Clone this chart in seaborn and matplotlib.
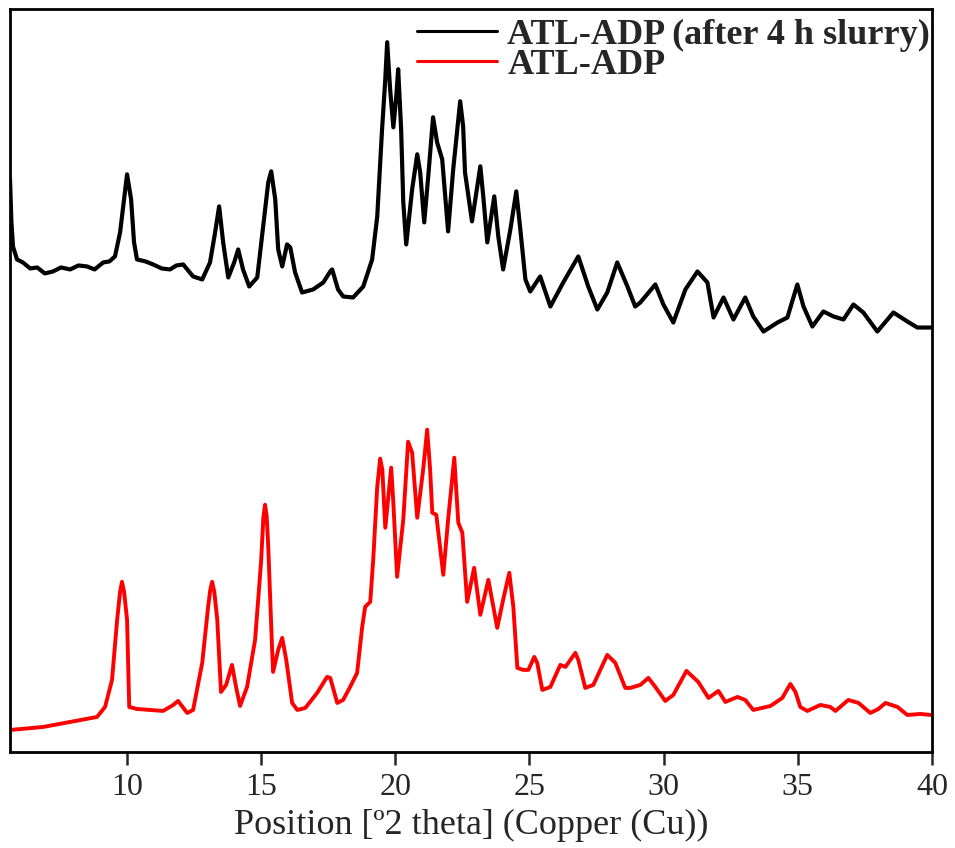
import matplotlib
matplotlib.use("Agg")
import matplotlib.pyplot as plt
import seaborn as sns
import pandas as pd

# Powder pattern after 4 h slurry (intensity, a.u., already stacked above the reference pattern)
slurry_theta = [5.65, 5.70, 5.76, 5.85, 5.91, 6.13, 6.40, 6.66, 6.95, 7.25, 7.55, 7.89, 8.20, 8.52,
                8.80, 9.12, 9.35, 9.56, 9.75, 9.94, 10.01, 10.16, 10.27, 10.38, 10.70, 10.98, 11.30,
                11.61, 11.85, 12.10, 12.47, 12.81, 13.10, 13.29, 13.44, 13.59, 13.78, 14.00, 14.15,
                14.33, 14.56, 14.86, 15.08, 15.27, 15.38, 15.53, 15.64, 15.79, 15.97, 16.09, 16.27,
                16.53, 16.94, 17.32, 17.58, 17.65, 17.87, 18.06, 18.43, 18.81, 19.14, 19.33, 19.51,
                19.63, 19.70, 19.81, 19.93, 20.04, 20.11, 20.22, 20.30, 20.41, 20.63, 20.82, 20.93,
                21.08, 21.23, 21.41, 21.56, 21.75, 21.97, 22.16, 22.42, 22.53, 22.60, 22.86, 23.17,
                23.28, 23.43, 23.69, 23.84, 24.02, 24.29, 24.51, 24.66, 24.85, 25.03, 25.40, 25.78,
                26.26, 26.82, 27.19, 27.53, 27.90, 28.27, 28.65, 28.94, 29.13, 29.69, 29.99, 30.36,
                30.81, 31.26, 31.63, 31.86, 32.23, 32.60, 33.04, 33.34, 33.72, 34.24, 34.61, 34.98,
                35.21, 35.54, 35.95, 36.33, 36.70, 37.07, 37.44, 37.96, 38.56, 39.08, 39.45, 39.94]
slurry_int = [572, 530, 505, 497, 492, 489, 483, 484, 478, 480, 484, 482, 486, 485,
              482, 489, 490, 495, 519, 562, 577, 552, 509, 492, 490, 487, 483,
              482, 486, 487, 475, 472, 489, 519, 545, 509, 474, 489, 502,
              482, 465, 474, 525, 569, 580, 552, 502, 485, 507, 504, 479,
              459, 462, 469, 480, 482, 462, 455, 454, 465, 492, 535, 622,
              672, 709, 662, 624, 655, 682, 622, 549, 507, 562, 597, 579,
              529, 575, 634, 609, 592, 520, 582, 650, 625, 579, 530, 585,
              555, 509, 555, 515, 482, 522, 560, 522, 472, 460, 475, 445,
              469, 495, 465, 442, 459, 489, 465, 445, 449, 467, 447, 429,
              462, 480, 469, 434, 454, 432, 454, 435, 420, 429, 434, 467,
              445, 425, 440, 435, 432, 447, 439, 420, 439, 430, 424, 424]

# Reference ATL-ADP pattern (intensity, a.u.)
ref_theta = [5.65, 6.88, 7.89, 8.89, 9.19, 9.45, 9.64, 9.75, 9.82, 9.90, 10.01, 10.09, 10.38,
             11.35, 11.73, 11.91, 12.25, 12.47, 12.81, 13.03, 13.11, 13.18, 13.26, 13.37, 13.51,
             13.70, 13.92, 14.07, 14.22, 14.48, 14.78, 15.00, 15.09, 15.15, 15.21, 15.27, 15.41,
             15.45, 15.64, 15.79, 15.94, 16.16, 16.35, 16.65, 17.09, 17.46, 17.58, 17.84, 18.06,
             18.32, 18.58, 18.77, 18.88, 19.07, 19.18, 19.33, 19.44, 19.52, 19.63, 19.85, 19.93,
             20.07, 20.30, 20.48, 20.63, 20.82, 21.04, 21.19, 21.30, 21.38, 21.53, 21.79, 21.97,
             22.20, 22.35, 22.50, 22.68, 22.94, 23.17, 23.47, 23.80, 24.02, 24.25, 24.40, 24.55,
             24.77, 24.96, 25.18, 25.29, 25.48, 25.78, 26.15, 26.34, 26.71, 26.82, 27.08, 27.38,
             27.90, 28.20, 28.57, 28.76, 29.13, 29.43, 29.69, 30.06, 30.36, 30.85, 31.29, 31.67,
             32.04, 32.30, 32.75, 33.04, 33.34, 33.98, 34.42, 34.72, 34.91, 35.09, 35.35, 35.84,
             36.21, 36.40, 36.88, 37.26, 37.70, 38.00, 38.26, 38.71, 39.08, 39.57, 39.94]
ref_int = [22, 25, 30, 35, 45, 72, 132, 160, 170, 160, 132, 45, 43,
           41, 47, 51, 39, 42, 89, 145, 162, 170, 160, 132, 60,
           67, 87, 65, 46, 65, 112, 189, 235, 247, 236, 205, 105,
           80, 102, 114, 92, 49, 42, 44, 59, 75, 74, 49, 52,
           65, 79, 125, 145, 150, 192, 265, 293, 282, 224, 284, 249,
           175, 232, 310, 299, 234, 282, 322, 282, 239, 237, 177, 232,
           294, 229, 219, 150, 184, 137, 172, 124, 152, 179, 145, 84,
           82, 82, 95, 89, 62, 65, 87, 85, 99, 92, 64, 67,
           97, 89, 64, 64, 67, 74, 65, 51, 57, 81, 70, 54,
           61, 50, 55, 52, 42, 46, 54, 68, 60, 45, 41, 47,
           45, 41, 52, 49, 39, 43, 49, 45, 37, 38, 37]

series_labels = ["ATL-ADP (after 4 h slurry)", "ATL-ADP"]
x_ticks = [10, 15, 20, 25, 30, 35, 40]

sns.set_style("ticks")
plt.rcParams["font.family"] = ["Liberation Serif", "DejaVu Serif"]
plt.rcParams["axes.linewidth"] = 2.0

fig = plt.figure(figsize=(9.55, 8.48), dpi=100)
ax = fig.add_axes([0.0105, 0.1132, 0.9655, 0.876])

slurry = pd.DataFrame({"theta": slurry_theta, "intensity": slurry_int})
ref = pd.DataFrame({"theta": ref_theta, "intensity": ref_int})

sns.lineplot(data=slurry, x="theta", y="intensity", ax=ax, color="black",
             linewidth=3.0, label=series_labels[0], sort=False)
sns.lineplot(data=ref, x="theta", y="intensity", ax=ax, color="#ff0000",
             linewidth=2.8, label=series_labels[1], sort=False)

ax.set_xlim(5.65, 40)
ax.set_ylim(0, 742)
ax.set_xticks(x_ticks)
ax.set_xticklabels([str(t) for t in x_ticks])
ax.set_yticks([])
ax.set_ylabel("")
ax.set_xlabel("Position [º2 theta] (Copper (Cu))", fontsize=26, labelpad=5)
ax.tick_params(axis="x", direction="out", length=9, width=1.8, labelsize=23, pad=6)
for s in ax.spines.values():
    s.set_visible(True)
    s.set_color("black")

leg = ax.legend(loc="upper right", bbox_to_anchor=(1.0, 0.99), frameon=False,
                prop={"family": "Liberation Serif", "weight": "bold", "size": 26},
                handlelength=2.2, handletextpad=0.3, labelspacing=-0.08,
                borderaxespad=0.0, borderpad=0.05)
for line in leg.get_lines():
    line.set_linewidth(2.2)

fig.savefig("out.png", dpi=100)
